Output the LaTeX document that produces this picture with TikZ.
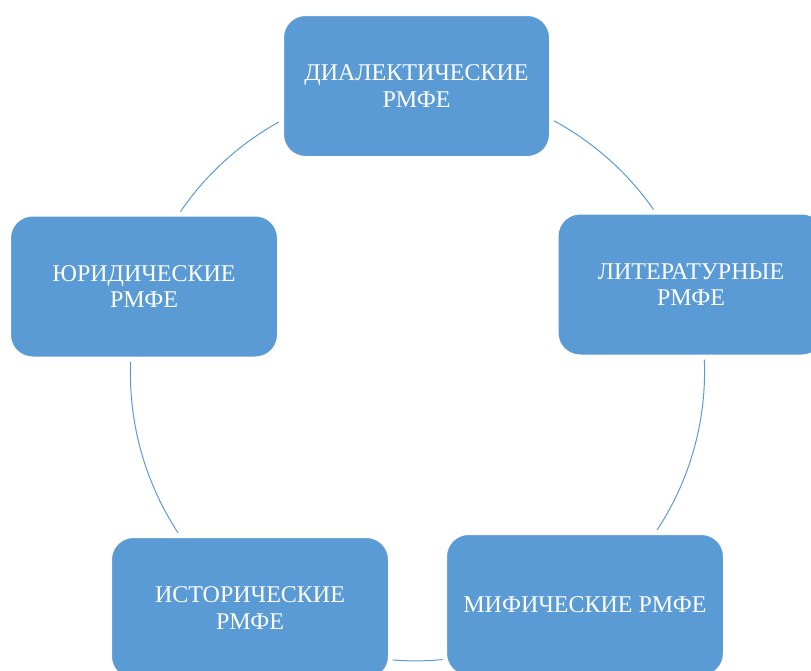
\documentclass[tikz,border=0pt]{standalone}
\usepackage{fontspec}
\setmainfont{Liberation Serif}
\usepackage{tikz}
\usetikzlibrary{backgrounds}
\usepackage{xcolor}
\definecolor{boxblue}{HTML}{5B9BD5}

\begin{document}
\begin{tikzpicture}[x=1pt, y=-1pt,
    formbox/.style={rectangle, rounded corners=24pt, fill=boxblue, draw=white,
      line width=5pt, minimum height=145pt, align=center, text=white,
      font=\fontsize{24}{26.5}\selectfont},
    cycleline/.style={boxblue, line width=1pt, bend right=36, looseness=0.94}]
  \useasboundingbox (0,0) rectangle (811,670);
  \clip (0,0) rectangle (811,670);
  \node[formbox, minimum width=270pt] (dial) at (416.5,86) {ДИАЛЕКТИЧЕСКИЕ\\РМФЕ};
  \node[formbox, minimum width=270pt] (lit) at (691,284.5) {ЛИТЕРАТУРНЫЕ\\РМФЕ};
  \node[formbox, minimum width=281pt] (myth) at (585,605) {МИФИЧЕСКИЕ РМФЕ};
  \node[formbox, minimum width=281pt] (hist) at (250,608) {ИСТОРИЧЕСКИЕ\\РМФЕ};
  \node[formbox, minimum width=271pt] (jur) at (144,286.5) {ЮРИДИЧЕСКИЕ\\РМФЕ};
  % circle of forms
  \begin{pgfonlayer}{background}
    \draw[cycleline] (dial.center) to (jur.center);
    \draw[cycleline] (jur.center) to (hist.center);
    \draw[cycleline] (hist.center) to (myth.center);
    \draw[cycleline] (myth.center) to (lit.center);
    \draw[cycleline] (lit.center) to (dial.center);
  \end{pgfonlayer}
\end{tikzpicture}
\end{document}
